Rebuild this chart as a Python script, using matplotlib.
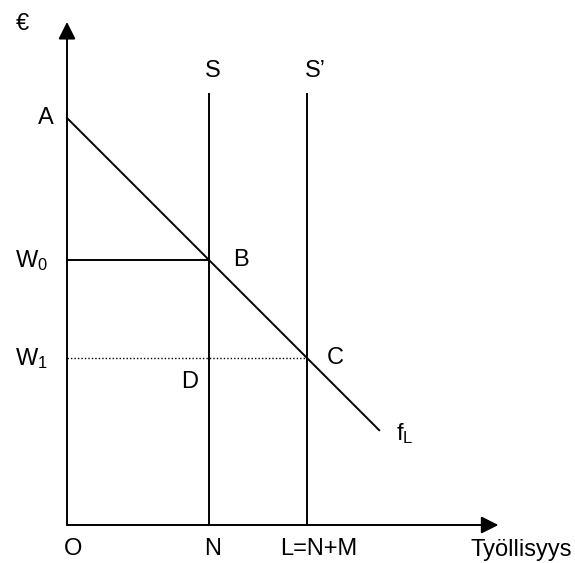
import matplotlib.pyplot as plt

plt.rcParams['font.family'] = ['Liberation Sans', 'DejaVu Sans']
plt.rcParams['mathtext.fontset'] = 'custom'
plt.rcParams['mathtext.rm'] = 'Liberation Sans'
plt.rcParams['mathtext.it'] = 'Liberation Sans'

# Model values (diagram units)
A = 10.0          # demand curve intercept
N = 3.5           # native labour supply
L = 5.9           # total supply with immigrants (N+M)
W0 = A - N        # wage before immigration
W1 = A - L        # wage after immigration
fL_end = 7.67     # where the demand line stops
supply_top = 10.6
x_axis_end = 10.6
y_axis_end = 12.36

px = 40.7  # pixels per unit
fig = plt.figure(figsize=(5.75, 5.63), dpi=100)
ax = fig.add_axes([0, 0, 1, 1])
ax.set_xlim(-67 / px, (575 - 67) / px)
ax.set_ylim(-38 / px, 525 / px)
ax.axis('off')

lw = 1.4
arrow = dict(arrowstyle='-|>', color='black', lw=lw, mutation_scale=26,
             shrinkA=0, shrinkB=0)
ax.annotate('', xy=(0, y_axis_end), xytext=(0, 0), arrowprops=arrow)
ax.annotate('', xy=(x_axis_end, 0), xytext=(0, 0), arrowprops=arrow)

# demand curve
ax.plot([0, fL_end], [A, A - fL_end], color='black', lw=lw)
# supply curves
ax.plot([N, N], [0, supply_top], color='black', lw=lw)
ax.plot([L, L], [0, supply_top], color='black', lw=lw)
# wage lines
ax.plot([0, N], [W0, W0], color='black', lw=lw)
ax.plot([0, L], [W1, W1], color='black', lw=1.0, linestyle=(0, (1, 1.5)))

fs = 17
def lab(x, y, s, ha='center'):
    ax.text(x, y, s, fontsize=fs, ha=ha, va='center')

lab(-45 / px, (525 - 24) / px, '€')
lab(-21 / px, A, 'A')
lab(N + 3 / px, supply_top + 23 / px, 'S')
lab(L + 8 / px, supply_top + 23 / px, 'S’')
lab(-52 / px, W0, r'$\mathregular{W_0}$', ha='left')
lab(-52 / px, W1, r'$\mathregular{W_1}$', ha='left')
lab(N + 31 / px, W0, 'B')
lab(L + 28 / px, W1, 'C')
lab(N - 20 / px, W1 - 24 / px, 'D')
lab(fL_end + 17 / px, A - fL_end - 3 / px, r'$\mathregular{f_L}$', ha='left')
lab(6 / px, -24 / px, 'O')
lab(N + 3 / px, -24 / px, 'N')
lab(L + 12 / px, -24 / px, 'L=N+M')
lab(454 / px, -25 / px, 'Työllisyys')

fig.savefig('out.png', dpi=100)
